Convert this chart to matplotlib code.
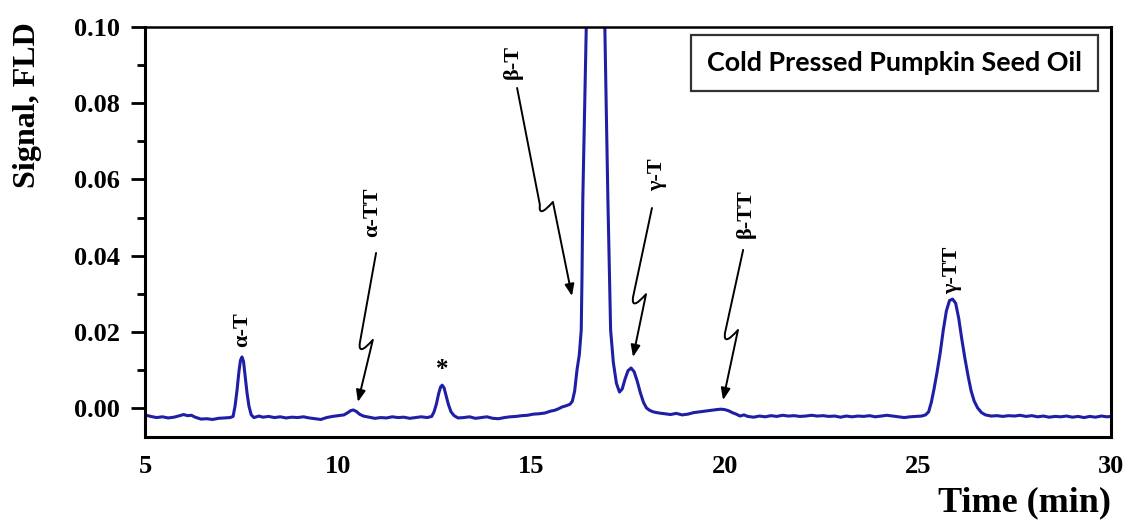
import matplotlib
matplotlib.use('Agg')
import matplotlib.pyplot as plt
from matplotlib.path import Path
from matplotlib.patches import FancyArrowPatch
from matplotlib.ticker import MultipleLocator, FormatStrFormatter

# ---- chromatogram (time in min, FLD signal) ----
time_min = [
    5.0, 5.15, 5.3, 5.45, 5.6, 5.75, 5.9, 6.0, 6.1, 6.2, 6.3, 6.45, 6.6, 6.75, 6.9, 7.05, 7.2,
    7.28, 7.33, 7.38, 7.43, 7.47, 7.51, 7.55, 7.59, 7.64, 7.69, 7.75, 7.82,
    7.95, 8.05, 8.2, 8.35, 8.5, 8.65, 8.8, 8.95, 9.1, 9.25, 9.4, 9.55, 9.7, 9.85, 10.0, 10.15,
    10.25, 10.32, 10.39, 10.47, 10.55, 10.65, 10.8, 10.95, 11.1, 11.25, 11.4, 11.55, 11.7,
    11.85, 12.0, 12.15, 12.3, 12.42,
    12.48, 12.54, 12.6, 12.65, 12.69, 12.74, 12.79, 12.85, 12.92, 13.0, 13.1,
    13.25, 13.4, 13.55, 13.7, 13.85, 14.0, 14.15, 14.3, 14.45, 14.6, 14.75, 14.9, 15.05,
    15.2, 15.35, 15.5, 15.6, 15.7, 15.8, 15.9, 16.0, 16.06, 16.12, 16.18, 16.24, 16.29,
    16.31, 16.33, 16.375, 16.42, 16.52, 16.66, 16.8, 16.9, 16.94, 16.98, 17.02, 17.05,
    17.12, 17.2, 17.28, 17.35, 17.42, 17.5, 17.58, 17.66, 17.74, 17.82, 17.9, 17.98,
    18.06, 18.15, 18.3, 18.45, 18.6, 18.75, 18.9, 19.05, 19.2, 19.35, 19.5, 19.65, 19.8,
    19.9, 20.0, 20.1, 20.2, 20.3, 20.4, 20.5, 20.6, 20.75, 20.9, 21.05, 21.2, 21.35, 21.5,
    21.65, 21.8, 21.95, 22.1, 22.25, 22.4, 22.55, 22.7, 22.85, 23.0, 23.15, 23.3, 23.45,
    23.6, 23.75, 23.9, 24.05, 24.2, 24.35, 24.5, 24.65, 24.8, 24.95, 25.1, 25.2,
    25.28, 25.35, 25.42, 25.5, 25.58, 25.66, 25.74, 25.82, 25.9, 25.98, 26.06, 26.14,
    26.22, 26.3, 26.38, 26.46, 26.55, 26.65, 26.75, 26.9, 27.05, 27.2, 27.35, 27.5, 27.65,
    27.8, 27.95, 28.1, 28.25, 28.4, 28.55, 28.7, 28.85, 29.0, 29.15, 29.3, 29.45, 29.6,
    29.75, 29.9, 30.0,
]
signal = [
    -0.0018, -0.0022, -0.0025, -0.0023, -0.0026, -0.0024, -0.0020, -0.0017, -0.0020, -0.0019,
    -0.0024, -0.0029, -0.0028, -0.0030, -0.0027, -0.0026, -0.0025,
    -0.0022, 0.0005, 0.0045, 0.0095, 0.0125, 0.0134, 0.0122, 0.0085, 0.0040, 0.0005, -0.0018, -0.0025,
    -0.0021, -0.0024, -0.0022, -0.0025, -0.0023, -0.0026, -0.0024, -0.0025, -0.0023, -0.0026,
    -0.0028, -0.0030, -0.0025, -0.0022, -0.0020, -0.0018,
    -0.0012, -0.0007, -0.0005, -0.0009, -0.0016, -0.0021, -0.0024, -0.0027, -0.0025, -0.0026,
    -0.0023, -0.0025, -0.0024, -0.0027, -0.0025, -0.0023, -0.0025, -0.0022,
    -0.0010, 0.0010, 0.0038, 0.0055, 0.0060, 0.0053, 0.0033, 0.0010, -0.0010, -0.0020, -0.0026,
    -0.0025, -0.0023, -0.0027, -0.0025, -0.0023, -0.0027, -0.0028, -0.0025, -0.0023, -0.0022,
    -0.0020, -0.0019, -0.0016, -0.0015, -0.0013, -0.0008, -0.0006, -0.0002, 0.0003, 0.0006,
    0.0010, 0.0018, 0.0045, 0.0100, 0.0140, 0.0205,
    0.0350, 0.0546, 0.0770, 0.1000, 0.1600, 0.2000, 0.1600, 0.1000, 0.0770, 0.0546, 0.0350, 0.0205,
    0.0120, 0.0065, 0.0042, 0.0050, 0.0075, 0.0098, 0.0105, 0.0095, 0.0070, 0.0040, 0.0015, 0.0000,
    -0.0006, -0.0010, -0.0013, -0.0015, -0.0017, -0.0014, -0.0018, -0.0016, -0.0012, -0.0010,
    -0.0008, -0.0006, -0.0004,
    -0.0003, -0.0004, -0.0007, -0.0012, -0.0016, -0.0021, -0.0018, -0.0022, -0.0024, -0.0021,
    -0.0023, -0.0020, -0.0022, -0.0019,
    -0.0021, -0.0020, -0.0022, -0.0021, -0.0019, -0.0021, -0.0020, -0.0022, -0.0021, -0.0024,
    -0.0021, -0.0023, -0.0021,
    -0.0022, -0.0020, -0.0023, -0.0021, -0.0019, -0.0021, -0.0023, -0.0025, -0.0023, -0.0022,
    -0.0021, -0.0018,
    -0.0010, 0.0015, 0.0050, 0.0095, 0.0145, 0.0205, 0.0255, 0.0282, 0.0286, 0.0275, 0.0235, 0.0180,
    0.0130, 0.0085, 0.0045, 0.0018, 0.0000, -0.0012, -0.0018, -0.0021, -0.0020, -0.0022, -0.0020,
    -0.0021, -0.0019,
    -0.0022, -0.0020, -0.0023, -0.0021, -0.0024, -0.0022, -0.0023, -0.0021, -0.0024, -0.0022,
    -0.0025, -0.0022, -0.0024,
    -0.0021, -0.0023, -0.0022,
]

# ---- peak labels ----
peak_labels = ['α-T', 'α-TT', '*', 'β-T', 'γ-T', 'β-TT', 'γ-TT']
label_t = [7.51, 10.88, 12.69, 14.51, 18.26, 20.54, 25.90]
label_s = [0.0205, 0.0514, 0.0100, 0.0908, 0.0612, 0.0509, 0.0362]
label_rot = [90, 90, 0, 90, 90, 90, 90]

# squiggly arrows: (start, kink, tip) in data units
arrow_start = [(10.98, 0.0407), (14.63, 0.0840), (18.12, 0.0525), (20.48, 0.0415)]
arrow_kink = [(10.56, 0.0171), (15.22, 0.0533), (17.63, 0.0291), (20.01, 0.0197)]
arrow_tip = [(10.51, 0.0016), (16.05, 0.0294), (17.63, 0.0134), (19.96, 0.0021)]

x_ticks = [5, 10, 15, 20, 25, 30]
y_ticks = [0.00, 0.02, 0.04, 0.06, 0.08, 0.10]
title_box = 'Cold Pressed Pumpkin Seed Oil'

serif = ['Liberation Serif', 'DejaVu Serif']

fig = plt.figure(figsize=(11.26, 5.20), dpi=100)
ax = fig.add_axes([145 / 1126, 83 / 520, 966 / 1126, 410 / 520])

ax.plot(time_min, signal, color='#1f1fa6', lw=2.2, solid_joinstyle='round')
ax.set_xlim(5, 30)
ax.set_ylim(-0.0076, 0.1)

ax.set_xticks(x_ticks)
ax.set_yticks(y_ticks)
ax.yaxis.set_minor_locator(MultipleLocator(0.01))
ax.yaxis.set_major_formatter(FormatStrFormatter('%.2f'))
ax.tick_params(axis='y', which='major', direction='out', length=10, width=2, pad=8)
ax.tick_params(axis='y', which='minor', direction='out', length=6, width=2)
ax.tick_params(axis='x', which='both', length=0, pad=13)
for lab in ax.get_xticklabels() + ax.get_yticklabels():
    lab.set_fontfamily(serif)
    lab.set_fontweight('bold')
    lab.set_fontsize(19)

for side in ['left', 'bottom', 'right']:
    ax.spines[side].set_linewidth(2.2)
ax.spines['top'].set_linewidth(1.8)

ax.set_xlabel('Time (min)', fontfamily=serif, fontweight='bold', fontsize=26)
ax.xaxis.label.set_horizontalalignment('right')
ax.xaxis.label.set_verticalalignment('bottom')
ax.xaxis.set_label_coords(1.0, -0.2)
ax.set_ylabel('Signal, FLD', loc='top', fontfamily=serif, fontweight='bold',
              fontsize=23, labelpad=23)
ax.yaxis.label.set_y(1.013)

for txt, t, s, r in zip(peak_labels, label_t, label_s, label_rot):
    ax.text(t, s, txt, rotation=r, ha='center', va='center', fontfamily=serif,
            fontweight='bold', fontsize=16 if txt != '*' else 18)

ax.text(0.776, 0.912, title_box, transform=ax.transAxes, ha='center', va='center',
        fontfamily=['Lato', 'DejaVu Sans'], fontweight='bold', fontsize=19.4,
        bbox=dict(boxstyle='square,pad=0.6', facecolor='white', edgecolor='#333333', lw=1.6))

# draw squiggly arrows
fig.canvas.draw()
to_disp = ax.transData
to_data = ax.transData.inverted()
for p0, k, tip in zip(arrow_start, arrow_kink, arrow_tip):
    kx, ky = to_disp.transform(k)
    c = to_data.transform((kx - 2, ky - 14))
    e = to_data.transform((kx + 13, ky + 3))
    verts = [p0, k, tuple(c), tuple(e), tip]
    codes = [Path.MOVETO, Path.LINETO, Path.CURVE3, Path.CURVE3, Path.LINETO]
    arr = FancyArrowPatch(path=Path(verts, codes),
                          arrowstyle='-|>,head_length=7,head_width=2.8',
                          mutation_scale=1, color='black', lw=1.4)
    ax.add_patch(arr)

fig.savefig('out.png', dpi=100)
